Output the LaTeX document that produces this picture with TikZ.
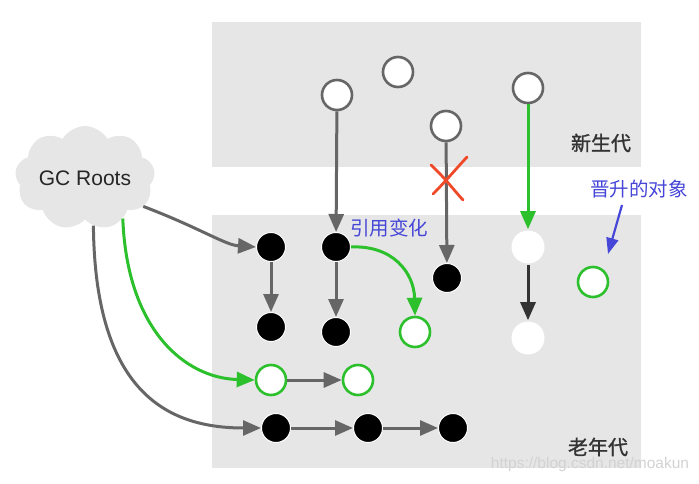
\documentclass[tikz,border=0pt]{standalone}
\usepackage{fontspec}
\setmainfont{Liberation Sans}
\newfontfamily\cjk{Noto Sans CJK SC}
\newfontfamily\cjkbold[FakeBold=1.2]{Noto Sans CJK SC}
\usetikzlibrary{arrows.meta,shapes.symbols}
\definecolor{zonegray}{HTML}{E6E6E6}
\definecolor{refgray}{HTML}{666666}
\definecolor{refgreen}{HTML}{2DC02D}
\definecolor{notblue}{HTML}{4646D8}
\definecolor{crossred}{HTML}{EE4A2A}
\begin{document}
\begin{tikzpicture}[x=1pt,y=-1pt,
  obj/.style={circle,minimum size=30pt,inner sep=0pt,line width=2.6pt},
  young/.style={obj,fill=white,draw=refgray},
  live/.style={circle,minimum size=29pt,inner sep=0pt,fill=black,draw=white,line width=1pt},
  moved/.style={obj,fill=white,draw=refgreen},
  ghost/.style={obj,fill=white,draw=none,minimum size=33pt},
  ref/.style={line width=3pt,draw=refgray,-{Triangle[length=18pt,width=15pt]}},
  greenref/.style={ref,draw=refgreen},
  zonename/.style={text=black!80,font=\cjkbold\fontsize{20}{20}\selectfont},
  note/.style={text=notblue,font=\cjk\fontsize{19.5}{20}\selectfont}]
  \useasboundingbox (0,0) rectangle (699,484);
  % generations
  \fill[zonegray] (212,22) rectangle (641,167);
  \fill[zonegray] (212,215) rectangle (641,468);
  \node[zonename] (young gen) at (601,143) {新生代};
  \node[zonename] (old gen) at (598,447) {老年代};
  % roots
  \node[cloud,cloud puffs=9,cloud puff arc=120,cloud ignores aspect,fill=zonegray,
        minimum width=140pt,minimum height=104pt,inner sep=0pt,
        font=\fontsize{21}{21}\selectfont,text=black!85] (gc) at (85,178) {GC Roots};
  % young objects
  \node[young] (ya) at (337,95) {};
  \node[young] (yb) at (398,72) {};
  \node[young] (yc) at (446,126) {};
  \node[young] (yd) at (528,88) {};
  % old objects
  \node[live] (k1) at (271,247) {};
  \node[live] (k2) at (336,247) {};
  \node[live] (k3) at (447,278) {};
  \node[live] (k4) at (271,327) {};
  \node[live] (k5) at (336,332) {};
  \node[moved] (g1) at (415,332) {};
  \node[moved] (g2) at (271,380) {};
  \node[moved] (g3) at (358,380) {};
  \node[live] (k6) at (276,428) {};
  \node[live] (k7) at (368,428) {};
  \node[live] (k8) at (453,428) {};
  \node[ghost] (w1) at (528,247) {};
  \node[ghost] (w2) at (528,338) {};
  \node[moved] (g4) at (593,282) {};
  % references
  \draw[ref] (ya) -- (k2);
  \draw[ref] (yc) -- (k3);
  \draw[greenref] (yd) -- (w1);
  \draw[ref,draw=black!80] (w1) -- (w2);
  \draw[ref] (k1) -- (k4);
  \draw[ref] (k2) -- (k5);
  \draw[greenref] (k2.east) .. controls (392,245) and (414,272) .. (g1.north);
  \draw[ref] (gc.-26) .. controls (200,228) and (225,245) .. (k1.west);
  \draw[greenref] (gc.-47) .. controls (127,330) and (185,378) .. (g2.west);
  \draw[ref] (gc.-80) .. controls (95,395) and (170,428) .. (k6.west);
  \draw[ref] (g2) -- (g3);
  \draw[ref] (k6) -- (k7);
  \draw[ref] (k7) -- (k8);
  % broken reference
  \draw[crossred,line width=2.8pt,line cap=round] (431,165) .. controls (445,178) and (452,188) .. (463,200);
  \draw[crossred,line width=2.8pt,line cap=round] (467,157) .. controls (455,170) and (445,182) .. (433,194);
  % notes
  \node[note] (change) at (389,228) {引用变化};
  \node[note] (promo) at (639,189) {晋升的对象};
  \coordinate (promo tail) at (622,205);
  \coordinate (promo tip) at (608,254);
  \draw[draw=notblue,line width=2.2pt,-{Triangle[length=16pt,width=12pt]}] (promo tail) -- (promo tip);
  \node[text=gray!35,font=\fontsize{15.5}{16}\selectfont] (mark) at (590,464) {https://blog.csdn.net/moakun};
\end{tikzpicture}
\end{document}
